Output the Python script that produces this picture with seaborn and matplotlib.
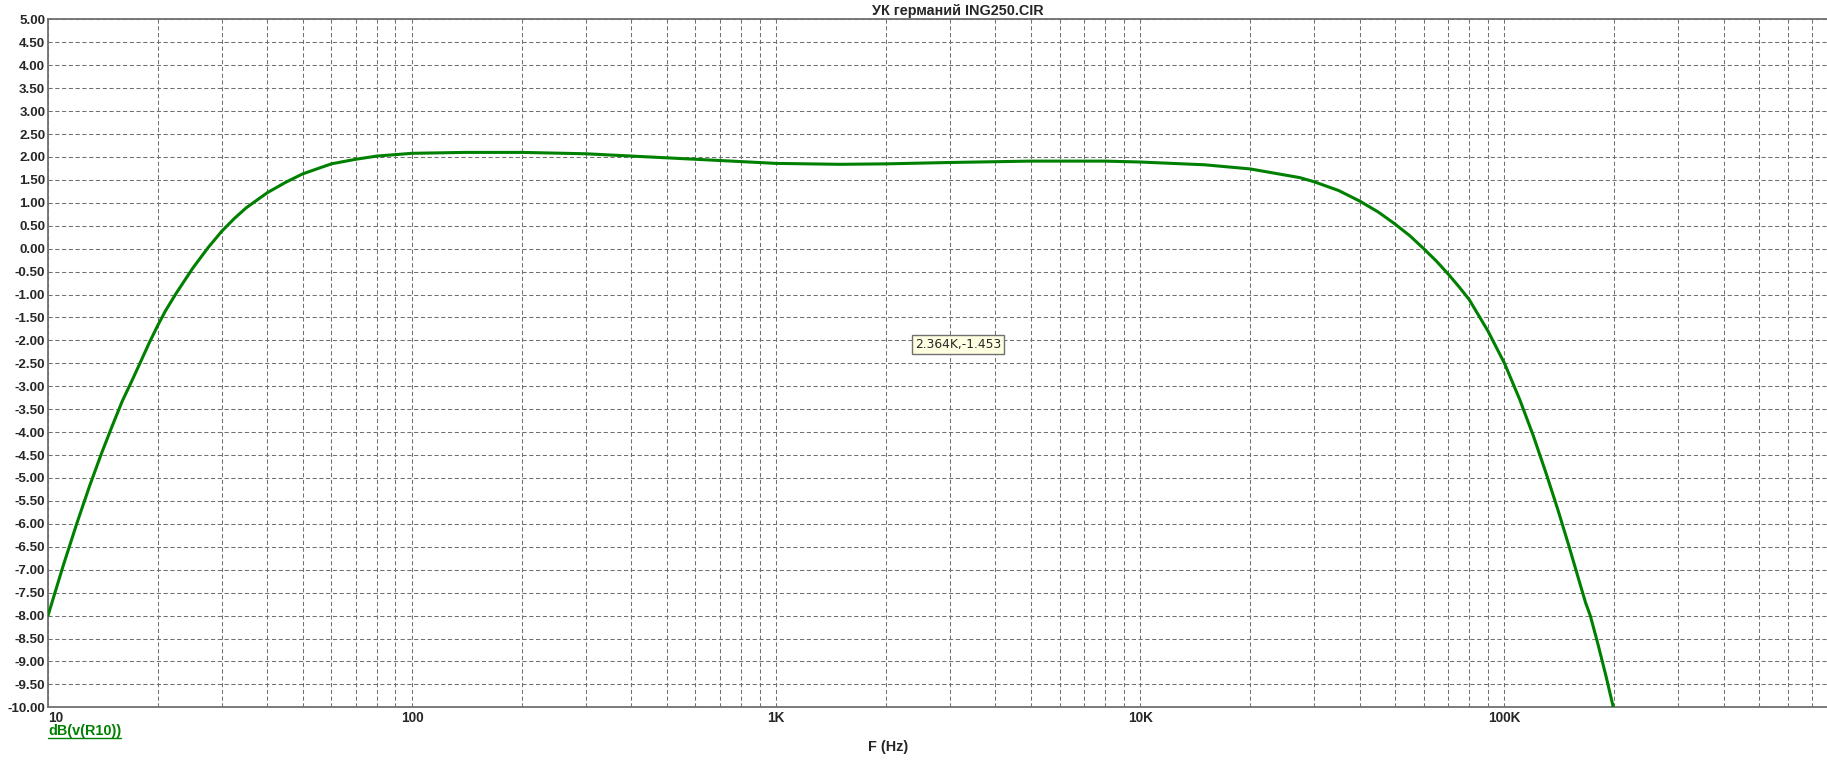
import numpy as np
import pandas as pd
import seaborn as sns
import matplotlib.pyplot as plt
from matplotlib.ticker import FixedLocator, NullFormatter

# frequency response (Hz, dB)
freq = [10, 11, 12, 13, 14, 15, 16, 17, 18, 19, 20, 21, 22.5, 25, 27.5, 30, 32.5, 35,
        40, 45, 50, 60, 70, 80, 100, 140, 200, 300, 400, 600, 1000, 1500, 2000,
        3000, 5000, 8000, 10000, 15000, 20000, 27400, 30000, 35000, 40000, 45000,
        50000, 55000, 60000, 65000, 70000, 75000, 80000, 90000, 100000, 110000,
        120000, 130000, 140000, 150000, 160000, 167000, 172000, 180000, 190000,
        199000]
gain_db = [-8.0, -6.92, -5.99, -5.18, -4.48, -3.87, -3.32, -2.88, -2.45, -2.04,
           -1.68, -1.36, -0.97, -0.42, 0.02, 0.38, 0.66, 0.89, 1.22, 1.45, 1.63,
           1.85, 1.95, 2.02, 2.08, 2.10, 2.10, 2.07, 2.02, 1.95, 1.86, 1.84, 1.85,
           1.88, 1.91, 1.91, 1.89, 1.83, 1.74, 1.55, 1.46, 1.27, 1.04, 0.80, 0.54,
           0.28, 0.0, -0.27, -0.55, -0.83, -1.11, -1.79, -2.5, -3.28, -4.08, -4.89,
           -5.68, -6.46, -7.22, -7.72, -8.0, -8.58, -9.32, -10.0]

x_major = [10, 100, 1000, 10000, 100000]
x_labels = ['10', '100', '1K', '10K', '100K']
y_ticks = list(np.arange(-10, 5.01, 0.5))

title = 'УК германий ING250.CIR'
cursor_text = '2.364K,-1.453'

df = pd.DataFrame({'F': freq, 'dB': gain_db})

sns.set_style('white')
plt.rcParams['font.family'] = ['Liberation Sans', 'DejaVu Sans']

fig = plt.figure(figsize=(18.27, 7.65), dpi=100)
ax = fig.add_axes([48 / 1827, 1 - 707.3 / 765, 1 - 48 / 1827, (707.3 - 19.4) / 765])

sns.lineplot(data=df, x='F', y='dB', ax=ax, color='#008000', linewidth=2.2,
             zorder=3)

ax.set_xscale('log')
ax.set_xlim(10, 10 ** 5.8857)
ax.set_ylim(-10, 5)

minor = [m * 10 ** d for d in range(1, 6) for m in range(2, 10)]
ax.xaxis.set_major_locator(FixedLocator(x_major))
ax.xaxis.set_minor_locator(FixedLocator(minor))
ax.xaxis.set_minor_formatter(NullFormatter())
ax.set_xticks(x_major)
ax.set_xticklabels(x_labels, fontsize=9.8, fontweight='bold')
ax.get_xticklabels()[0].set_horizontalalignment('left')
ax.set_yticks(y_ticks)
ax.set_yticklabels(['%.2f' % v for v in y_ticks], fontsize=9.6, fontweight='bold')
ax.tick_params(axis='x', which='both', length=0, pad=3)
ax.tick_params(axis='y', which='both', length=0, pad=2)

grid_kw = dict(color='#707070', linewidth=0.75, linestyle=(0, (4, 2.5)))
ax.grid(True, which='major', axis='both', **grid_kw)
ax.grid(True, which='minor', axis='x', **grid_kw)
ax.set_axisbelow(True)

for side in ['left', 'top', 'bottom']:
    ax.spines[side].set_color('#707070')
    ax.spines[side].set_linewidth(1.3)
ax.spines['right'].set_visible(False)

ax.set_xlabel('')
ax.set_ylabel('')

fig.text(958 / 1827, 1 - 11 / 765, title, ha='center', va='center',
         fontsize=10.4, fontweight='bold')
fig.text(888 / 1827, 1 - 747 / 765, 'F (Hz)', ha='center', va='center',
         fontsize=10.4, fontweight='bold')
legend_txt = fig.text(48 / 1827, 1 - 731 / 765, 'dB(v(R10))', ha='left',
                      va='center', fontsize=10.4, fontweight='bold',
                      color='#008000')

ax.text(3162, -2.09, cursor_text, ha='center', va='center', fontsize=8.8,
        family=['DejaVu Sans'], zorder=5,
        bbox=dict(boxstyle='square,pad=0.22', facecolor='#FFFFE1',
                  edgecolor='#707070', linewidth=1.0))

# underline the trace name like the simulator does
fig.canvas.draw()
bb = legend_txt.get_window_extent().transformed(fig.transFigure.inverted())
fig.add_artist(plt.Line2D([bb.x0, bb.x1], [1 - 738 / 765, 1 - 738 / 765],
                          color='#008000', linewidth=1.0))

fig.savefig('out.png', dpi=100)
